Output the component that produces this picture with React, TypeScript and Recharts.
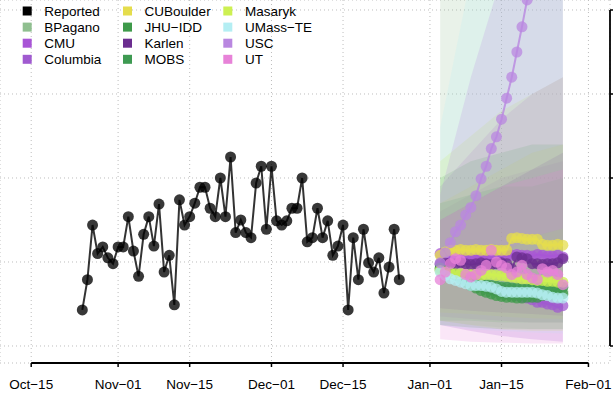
import { Area, CartesianGrid, ComposedChart, Line, ReferenceLine, XAxis, YAxis } from "recharts";

// days counted from Oct-15
const xTicks = [0, 17, 31, 47, 61, 78, 92, 109];
const xTickLabels = ["Oct−15", "Nov−01", "Nov−15", "Dec−01", "Dec−15", "Jan−01", "Jan−15", "Feb−01"];
const yTicks = [0, 1, 2, 3, 4];

const reportedStart = 10;
const reported = [
  0.43, 0.79, 1.44, 1.1, 1.18, 1.05, 0.98, 1.18, 1.18, 1.54, 1.13, 0.83, 1.33, 1.54, 1.19, 1.69,
  0.88, 1.08, 0.49, 1.74, 1.44, 1.54, 1.7, 1.89, 1.89, 1.64, 1.54, 2.0, 1.54, 2.25, 1.35, 1.5,
  1.35, 1.29, 1.94, 2.14, 1.39, 2.14, 1.49, 1.44, 1.49, 1.64, 1.64, 2.0, 1.24, 1.29, 1.64, 1.29,
  1.49, 1.08, 1.19, 1.44, 0.43, 1.29, 0.79, 1.39, 0.99, 0.88, 1.05, 0.63, 0.94, 1.39, 0.79,
];

const forecastStart = 80;
const bPagano = [0.9, 0.88, 0.86, 0.84, 0.82, 0.8, 0.78, 0.77, 0.76, 0.75, 0.74, 0.73, 0.72, 0.71, 0.7, 0.7, 0.69, 0.68, 0.68, 0.67, 0.67, 0.66, 0.66, 0.66, 0.65];
const cmu = [1.1, 1.08, 1.06, 1.05, 1.04, 1.05, 1.04, 1.05, 1.06, 1.05, 1.04, 1.05, 1.06, 1.07, 1.08, 1.09, 1.08, 1.08, 1.07, 1.09, 1.08, 1.07, 1.07, 1.08, 1.06];
const columbia = [0.97, 0.94, 0.9, 0.86, 0.83, 0.8, 0.77, 0.74, 0.72, 0.7, 0.68, 0.66, 0.64, 0.62, 0.61, 0.6, 0.58, 0.57, 0.55, 0.52, 0.52, 0.5, 0.49, 0.46, 0.48];
const cuBoulder = [1.08, 1.12, 1.14, 1.14, 1.15, 1.14, 1.14, 1.15, 1.14, 1.14, 1.15, 1.14, 1.14, 1.14, 1.28, 1.29, 1.28, 1.27, 1.27, 1.27, 1.21, 1.2, 1.2, 1.21, 1.2];
const jhuIdd = [0.92, 0.9, 0.87, 0.84, 0.8, 0.76, 0.72, 0.69, 0.66, 0.64, 0.62, 0.6, 0.59, 0.58, 0.58, 0.57, 0.57, 0.58, 0.58, 0.58, 0.6, 0.61, 0.61, 0.62, 0.62];
const karlen = [0.98, 0.99, 0.97, 0.98, 0.99, 0.98, 0.97, 0.98, 0.99, 0.98, 0.97, 0.98, 0.99, 0.98, 0.92, 1.06, 1.05, 1.04, 0.98, 0.98, 0.97, 0.98, 0.98, 0.99, 1.04];
const mobs = [0.93, 0.9, 0.88, 0.85, 0.82, 0.79, 0.77, 0.75, 0.74, 0.73, 0.72, 0.71, 0.7, 0.7, 0.69, 0.69, 0.68, 0.68, 0.69, 0.69, 0.7, 0.7, 0.69, 0.69, 0.7];
const masaryk = [0.9, 0.88, 0.87, 0.86, 0.86, 0.85, 0.85, 0.85, 0.84, 0.85, 0.85, 0.84, 0.84, 0.83, 0.82, 0.81, 0.8, 0.8, 0.79, 0.78, 0.78, 0.77, 0.77, 0.76, 0.76];
const umassTe = [0.88, 0.84, 0.8, 0.78, 0.76, 0.74, 0.72, 0.72, 0.72, 0.71, 0.7, 0.68, 0.65, 0.64, 0.64, 0.64, 0.64, 0.64, 0.64, 0.63, 0.61, 0.6, 0.58, 0.57, 0.57];
const usc = [0.99, 1.11, 1.23, 1.36, 1.44, 1.56, 1.65, 1.79, 1.99, 2.14, 2.35, 2.49, 2.7, 2.95, 3.2, 3.5, 3.8, 4.12, 4.42];
const ut = [0.79, 0.88, 0.98, 1.04, 1.02, 0.85, 0.82, 0.85, 0.9, 0.96, 1.14, 1.0, 0.96, 0.93, 0.85, 0.88, 0.96, 0.85, 0.81, 0.79, 0.92, 0.88, 0.9, 0.85, 0.73];

// uncertainty bands [lo, hi] at bandDays
const bandDays = [80, 86, 92, 98, 104];
const bPaganoBand = [[0.3, 4.4], [0.25, 4.4], [0.22, 4.4], [0.2, 4.4], [0.2, 4.4]];
const cmuBand = [[0.35, 1.9], [0.32, 2.3], [0.3, 2.7], [0.28, 3.0], [0.28, 3.2]];
const columbiaBand = [[0.25, 1.6], [0.18, 1.8], [0.12, 2.0], [0.08, 2.1], [0.05, 2.2]];
const cuBoulderBand = [[0.4, 1.7], [0.38, 1.9], [0.35, 2.1], [0.33, 2.3], [0.32, 2.4]];
const jhuIddBand = [[0.25, 2.0], [0.22, 2.2], [0.2, 2.3], [0.2, 2.4], [0.2, 2.4]];
const karlenBand = [[0.45, 1.5], [0.42, 1.7], [0.4, 1.9], [0.38, 2.1], [0.36, 2.3]];
const mobsBand = [[0.3, 1.7], [0.3, 1.8], [0.28, 1.9], [0.28, 1.9], [0.28, 2.0]];
const masarykBand = [[0.3, 2.2], [0.25, 2.5], [0.2, 2.8], [0.18, 3.0], [0.18, 3.2]];
const umassTeBand = [[0.25, 2.6], [0.2, 4.4], [0.18, 4.4], [0.16, 4.4], [0.15, 4.4]];
const uscBand = [[0.8, 1.8], [0.9, 3.2], [1.1, 4.4], [1.3, 4.4], [1.4, 4.4]];
const utBand = [[0.08, 1.5], [0.05, 1.7], [0.04, 1.9], [0.03, 2.0], [0.03, 2.1]];

const modelNames = ["BPagano", "CMU", "Columbia", "CUBoulder", "JHU−IDD", "Karlen", "MOBS", "Masaryk", "UMass−TE", "USC", "UT"];
const modelColors = ["#8fbf8f", "#a855d6", "#a05ad0", "#e5dd4c", "#3e9a4a", "#6b2d8f", "#3e9a52", "#cdf052", "#b4eef3", "#b987e0", "#e782d8"];
const modelValues = [bPagano, cmu, columbia, cuBoulder, jhuIdd, karlen, mobs, masaryk, umassTe, usc, ut];
const modelBands = [bPaganoBand, cmuBand, columbiaBand, cuBoulderBand, jhuIddBand, karlenBand, mobsBand, masarykBand, umassTeBand, uscBand, utBand];

const legendNames = ["Reported", ...modelNames];
const legendColors = ["#000000", ...modelColors];

const FONT = "'Liberation Sans', Arial, sans-serif";
const X_DOMAIN = [-6.103, 113.22];
const Y_DOMAIN = [-0.2024, 4.119];

const reportedData = reported.map((v, i) => ({ day: reportedStart + i, v }));
const lineData = modelValues.map((arr) => arr.map((v, i) => ({ day: forecastStart + i, v })));
const bandData = modelBands.map((arr) => arr.map((b, i) => ({ day: bandDays[i], band: b })));

// plain filled dot, same for every point
const makeDot = (color: string, opacity: number) => (p: any) => (
  <circle key={`dot-${p.index}`} cx={p.cx} cy={p.cy} r={5.5} fill={color} fillOpacity={opacity} stroke="none" />
);

function ChartLegend() {
  return (
    <svg width={330} height={72} style={{ position: "absolute", left: 0, top: 0, pointerEvents: "none" }}>
      {legendNames.map((name, i) => {
        const col = Math.floor(i / 4);
        const row = i % 4;
        const x = 22.7 + col * 100.3;
        const y = 11 + row * 16.1;
        return (
          <g key={name}>
            <rect x={x} y={y - 4.5} width={9} height={9} fill={legendColors[i]} />
            <text x={x + 21.6} y={y} dominantBaseline="central" fontSize={13.5} fontFamily={FONT} fill="#000">
              {name}
            </text>
          </g>
        );
      })}
    </svg>
  );
}

export default function App() {
  return (
    <div style={{ position: "absolute", left: 0, top: 0, width: 613, height: 398, overflow: "hidden", background: "#fff" }}>
      <ComposedChart width={660} height={398} margin={{ top: 0, right: 10, bottom: 5, left: 0 }}>
        <CartesianGrid stroke="#bdbdbd" strokeDasharray="1 3" />
        <XAxis
          dataKey="day"
          type="number"
          domain={X_DOMAIN}
          allowDataOverflow
          ticks={xTicks}
          interval={0}
          tickFormatter={(v: number) => xTickLabels[xTicks.indexOf(v)]}
          axisLine={false}
          tickLine={{ stroke: "#000", strokeWidth: 1.5 }}
          tickSize={4}
          tickMargin={12}
          height={30}
          tick={{ fill: "#000", fontSize: 13.5, fontFamily: FONT }}
        />
        <YAxis
          orientation="right"
          type="number"
          domain={Y_DOMAIN}
          allowDataOverflow
          ticks={yTicks}
          interval={0}
          axisLine={false}
          tickLine={{ stroke: "#000", strokeWidth: 1.5 }}
          tickSize={5}
          width={40}
          tick={() => <g />}
        />
        {bandData.map((d, i) => (
          <Area
            key={"band-" + modelNames[i]}
            data={d}
            dataKey="band"
            type="linear"
            stroke="none"
            fill={modelColors[i]}
            fillOpacity={0.2}
            isAnimationActive={false}
          />
        ))}
        <Line
          key="reported"
          data={reportedData}
          dataKey="v"
          type="linear"
          stroke="#000"
          strokeOpacity={0.8}
          strokeWidth={2}
          dot={makeDot("#000", 0.78)}
          activeDot={false}
          isAnimationActive={false}
        />
        {lineData.map((d, i) => (
          <Line
            key={"line-" + modelNames[i]}
            data={d}
            dataKey="v"
            type="linear"
            stroke={modelColors[i]}
            strokeOpacity={0.8}
            strokeWidth={2}
            dot={makeDot(modelColors[i], 0.75)}
            activeDot={false}
            isAnimationActive={false}
          />
        ))}
        <ReferenceLine
          segment={[{ x: 0, y: Y_DOMAIN[0] }, { x: 109, y: Y_DOMAIN[0] }]}
          stroke="#000"
          strokeWidth={1.8}
          ifOverflow="visible"
        />
        <ReferenceLine
          segment={[{ x: X_DOMAIN[1], y: 0 }, { x: X_DOMAIN[1], y: 4 }]}
          stroke="#000"
          strokeWidth={1.8}
          ifOverflow="visible"
        />
      </ComposedChart>
      <ChartLegend />
    </div>
  );
}
